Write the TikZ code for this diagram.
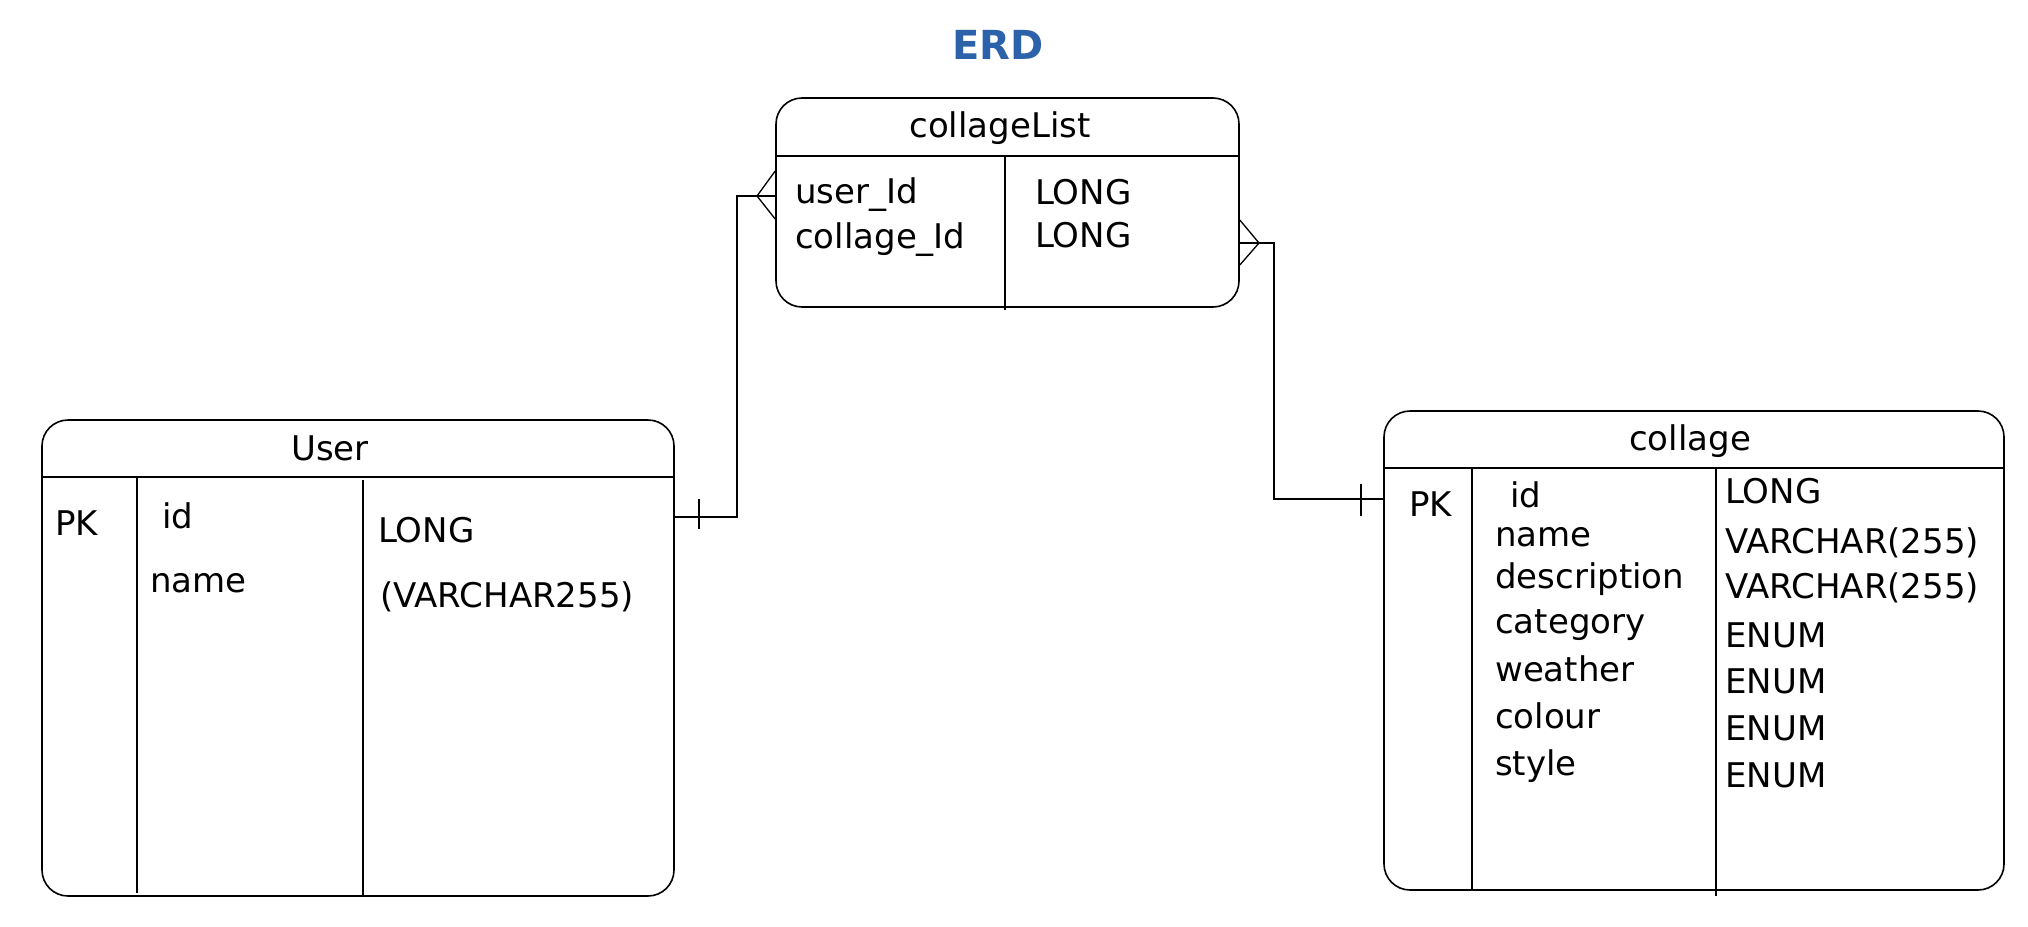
\documentclass[tikz,border=0pt]{standalone}
\usepackage{fontspec}
\setmainfont{DejaVu Sans}
\definecolor{erdblue}{RGB}{44,98,170}
\begin{document}
\begin{tikzpicture}[x=1pt,y=-1pt,
  tbl/.style={draw, rounded corners=26pt, inner sep=0pt, line width=1.6pt},
  rule/.style={line width=1.4pt},
  conn/.style={line width=1.3pt},
  txt/.style={anchor=base west, inner sep=0pt, font=\fontsize{34}{40}\selectfont},
  ttl/.style={anchor=base, inner sep=0pt, font=\fontsize{34}{40}\selectfont}]
\useasboundingbox[fill=white] (0,0) rectangle (2028,926);

% title
\node[anchor=center, inner sep=0pt, text=erdblue, font=\bfseries\fontsize{40}{48}\selectfont] (erd) at (998,45) {ERD};

% collageList table
\node[tbl, minimum width=463pt, minimum height=209pt] (cl) at (1007.5,202.5) {};
\draw[rule] (cl.west |- 0,156) -- (cl.east |- 0,156);
\draw[rule] (1005,156) -- (1005,310);
\node[ttl] (clt) at (1000,137) {collageList};
\node[txt] (cl1) at (795,203) {user\_Id};
\node[txt] (cl2) at (795,248) {collage\_Id};
\node[txt] (cl1t) at (1035,204) {LONG};
\node[txt] (cl2t) at (1035,247) {LONG};

% User table
\node[tbl, minimum width=632pt, minimum height=476pt] (user) at (358,658) {};
\draw[rule] (user.west |- 0,477) -- (user.east |- 0,477);
\draw[rule] (137,477) -- (137,893);
\draw[rule] (363,480) -- (363,896);
\node[ttl] (usert) at (330,460) {User};
\node[txt] (upk) at (55,535) {PK};
\node[txt] (u1) at (162,528) {id};
\node[txt] (u2) at (150,592) {name};
\node[txt] (u1t) at (378,542) {LONG};
\node[txt] (u2t) at (380,607) {(VARCHAR255)};

% collage table
\node[tbl, minimum width=620pt, minimum height=479pt] (col) at (1694,650.5) {};
\draw[rule] (col.west |- 0,468) -- (col.east |- 0,468);
\draw[rule] (1472,468) -- (1472,890);
\draw[rule] (1716,468) -- (1716,896);
\node[ttl] (colt) at (1690,450) {collage};
\node[txt] (cpk) at (1409,516) {PK};
\node[txt] (c1) at (1510,507) {id};
\node[txt] (c2) at (1495,546) {name};
\node[txt] (c3) at (1495,588) {description};
\node[txt] (c4) at (1495,633) {category};
\node[txt] (c5) at (1495,681) {weather};
\node[txt] (c6) at (1495,728) {colour};
\node[txt] (c7) at (1495,775) {style};
\node[txt] (c1t) at (1725,503) {LONG};
\node[txt] (c2t) at (1725,553) {VARCHAR(255)};
\node[txt] (c3t) at (1725,598) {VARCHAR(255)};
\node[txt] (c4t) at (1725,647) {ENUM};
\node[txt] (c5t) at (1725,693) {ENUM};
\node[txt] (c6t) at (1725,740) {ENUM};
\node[txt] (c7t) at (1725,787) {ENUM};

% connector User -> collageList (one to many)
\coordinate (f1) at (757,196);
\draw[conn] (user.east |- 0,517) -- (737,517) -- (737,196) -- (cl.west |- 0,196);
\draw[conn] (cl.west |- 0,171) -- (f1) -- (cl.west |- 0,219);
\draw[conn] (699,499) -- (699,529);

% connector collage -> collageList (one to many)
\coordinate (f2) at (1259,243);
\draw[conn] (cl.east |- 0,243) -- (1274,243) -- (1274,499) -- (col.west |- 0,499);
\draw[conn] (cl.east |- 0,220) -- (f2) -- (cl.east |- 0,265);
\draw[conn] (1361,484) -- (1361,516);
\end{tikzpicture}
\end{document}
